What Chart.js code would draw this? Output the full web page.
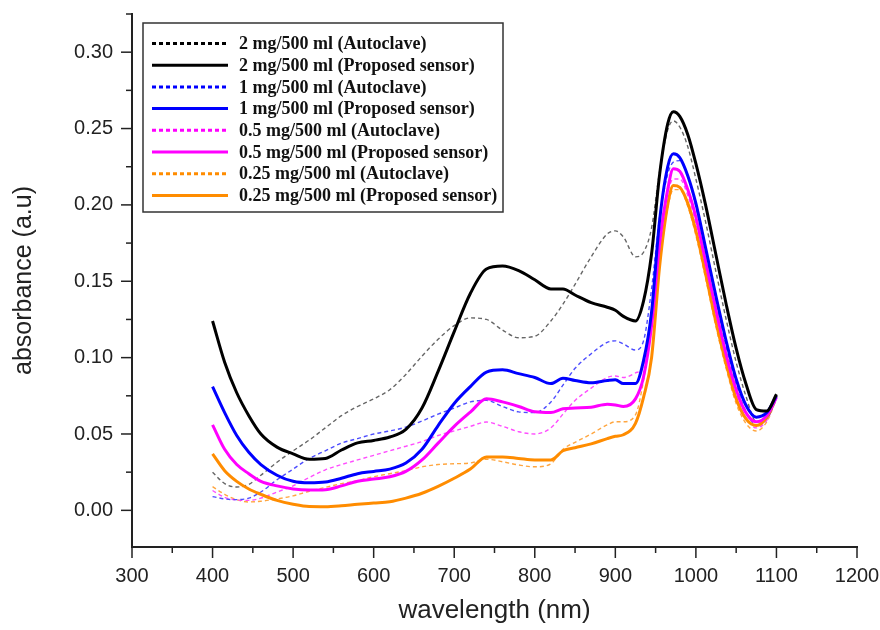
<!DOCTYPE html>
<html>
<head>
<meta charset="utf-8">
<script src="https://cdn.jsdelivr.net/npm/chart.js@4.4.0/dist/chart.umd.min.js"></script>
<style>
  html, body { margin: 0; padding: 0; background: #fff; }
</style>
</head>
<body>
<canvas id="absChart" width="880" height="630"></canvas>
<script>
// wavelength (nm) shared by all curves
var wavelength = [400, 415, 430, 445, 460, 480, 500, 520, 540, 560, 580, 600, 620, 640, 660, 680, 700, 720, 740, 760,
  780, 800, 820, 835, 850, 870, 890, 900, 910, 925, 935, 945, 955, 965, 972, 980, 990, 1000, 1012, 1025,
  1038, 1050, 1062, 1075, 1088, 1100];

var seriesLabels = [
  '2 mg/500 ml (Autoclave)', '2 mg/500 ml (Proposed sensor)',
  '1 mg/500 ml (Autoclave)', '1 mg/500 ml (Proposed sensor)',
  '0.5 mg/500 ml (Autoclave)', '0.5 mg/500 ml (Proposed sensor)',
  '0.25 mg/500 ml (Autoclave)', '0.25 mg/500 ml (Proposed sensor)'
];

var auto2 = [0.025, 0.0175, 0.0153, 0.017, 0.023, 0.0315, 0.039, 0.046, 0.054, 0.062, 0.068, 0.073, 0.079, 0.089, 0.101, 0.112, 0.121, 0.126, 0.125, 0.118,
  0.113, 0.114, 0.124, 0.135, 0.148, 0.166, 0.181, 0.183, 0.179, 0.166, 0.169, 0.185, 0.222, 0.249, 0.255, 0.251, 0.238, 0.217, 0.189, 0.156,
  0.124, 0.097, 0.075, 0.058, 0.060, 0.074];
var sensor2 = [0.124, 0.097, 0.077, 0.062, 0.050, 0.0414, 0.037, 0.0335, 0.034, 0.0395, 0.0442, 0.0458, 0.048, 0.053, 0.067, 0.091, 0.117, 0.142, 0.158, 0.160,
  0.157, 0.151, 0.145, 0.145, 0.141, 0.136, 0.133, 0.131, 0.127, 0.124, 0.137, 0.168, 0.220, 0.253, 0.261, 0.258, 0.246, 0.227, 0.200, 0.167,
  0.134, 0.106, 0.083, 0.066, 0.065, 0.076];
var auto1 = [0.009, 0.0075, 0.007, 0.008, 0.012, 0.020, 0.027, 0.034, 0.039, 0.044, 0.047, 0.050, 0.052, 0.0545, 0.0585, 0.063, 0.067, 0.071, 0.072, 0.068,
  0.0645, 0.064, 0.071, 0.082, 0.093, 0.1025, 0.110, 0.111, 0.109, 0.105, 0.111, 0.145, 0.192, 0.220, 0.228, 0.229, 0.219, 0.199, 0.170, 0.137,
  0.106, 0.082, 0.065, 0.056, 0.060, 0.073];
var sensor1 = [0.081, 0.064, 0.049, 0.038, 0.030, 0.023, 0.019, 0.018, 0.0185, 0.021, 0.024, 0.0255, 0.027, 0.031, 0.040, 0.0555, 0.070, 0.081, 0.0905, 0.092,
  0.0895, 0.087, 0.083, 0.0865, 0.085, 0.0835, 0.085, 0.0855, 0.083, 0.083, 0.098, 0.130, 0.190, 0.225, 0.2335, 0.231, 0.219, 0.201, 0.172, 0.140,
  0.110, 0.086, 0.069, 0.061, 0.064, 0.075];
var auto05 = [0.013, 0.0085, 0.0068, 0.0065, 0.008, 0.012, 0.016, 0.0215, 0.0265, 0.030, 0.033, 0.036, 0.039, 0.042, 0.045, 0.049, 0.052, 0.055, 0.0578, 0.055,
  0.0515, 0.050, 0.054, 0.063, 0.072, 0.080, 0.087, 0.088, 0.087, 0.090, 0.095, 0.128, 0.178, 0.208, 0.217, 0.217, 0.206, 0.188, 0.160, 0.128,
  0.098, 0.076, 0.061, 0.054, 0.059, 0.073];
var sensor05 = [0.056, 0.040, 0.030, 0.024, 0.019, 0.016, 0.014, 0.0133, 0.0135, 0.016, 0.019, 0.0205, 0.022, 0.0255, 0.033, 0.044, 0.055, 0.0643, 0.073, 0.071,
  0.068, 0.0645, 0.064, 0.0665, 0.067, 0.0675, 0.0695, 0.069, 0.068, 0.073, 0.0873, 0.121, 0.175, 0.210, 0.2236, 0.222, 0.210, 0.192, 0.163, 0.131,
  0.101, 0.079, 0.064, 0.058, 0.062, 0.074];
var auto025 = [0.0155, 0.0105, 0.007, 0.0055, 0.006, 0.0075, 0.0095, 0.0125, 0.015, 0.0175, 0.0195, 0.022, 0.024, 0.026, 0.0285, 0.030, 0.0305, 0.031, 0.0335, 0.0318,
  0.0297, 0.0285, 0.0305, 0.040, 0.0445, 0.050, 0.056, 0.058, 0.058, 0.0625, 0.085, 0.120, 0.165, 0.198, 0.210, 0.210, 0.199, 0.180, 0.152, 0.120,
  0.092, 0.070, 0.057, 0.052, 0.058, 0.073];
var sensor025 = [0.037, 0.026, 0.019, 0.014, 0.0105, 0.0065, 0.004, 0.0025, 0.0024, 0.003, 0.004, 0.0048, 0.0056, 0.008, 0.0112, 0.0157, 0.021, 0.027, 0.035, 0.035,
  0.034, 0.033, 0.033, 0.039, 0.041, 0.0435, 0.047, 0.0485, 0.0495, 0.057, 0.074, 0.100, 0.160, 0.200, 0.2127, 0.2115, 0.201, 0.183, 0.155, 0.123,
  0.095, 0.073, 0.060, 0.0555, 0.061, 0.075];

var xTicks = [300, 400, 500, 600, 700, 800, 900, 1000, 1100, 1200];
var yTicks = [0.00, 0.05, 0.10, 0.15, 0.20, 0.25, 0.30];

var allSeries = [auto2, sensor2, auto1, sensor1, auto05, sensor05, auto025, sensor025];
var colors = ['#000000', '#000000', '#0000ff', '#0000ff', '#ff00ff', '#ff00ff', '#ff8c00', '#ff8c00'];
// thin dotted curves look washed out in the original
var thinColors = ['#666666', '#000000', '#4d4dff', '#0000ff', '#ff4dff', '#ff00ff', '#ffa640', '#ff8c00'];

function pts(arr) {
  return wavelength.map(function (w, i) { return { x: w, y: arr[i] }; });
}

var datasets = allSeries.map(function (arr, i) {
  var dashed = i % 2 === 0;
  return {
    label: seriesLabels[i],
    data: pts(arr),
    borderColor: thinColors[i],
    legendColor: colors[i],
    borderWidth: dashed ? 1.4 : 3,
    borderDash: dashed ? [4, 3] : [],
    pointRadius: 0,
    fill: false,
    cubicInterpolationMode: 'monotone',
    order: dashed ? 1 : 0
  };
});

// tick marks (major + minor, outward) and the boxed legend
var decoPlugin = {
  id: 'deco',
  afterDraw: function (chart) {
    var ctx = chart.ctx, xs = chart.scales.x, ys = chart.scales.y, a = chart.chartArea;
    ctx.save();
    ctx.strokeStyle = '#222';
    ctx.lineWidth = 1.5;
    xs.ticks.forEach(function (t) {
      var px = xs.getPixelForValue(t.value);
      var major = xTicks.indexOf(t.value) >= 0;
      ctx.beginPath();
      ctx.moveTo(px, a.bottom);
      ctx.lineTo(px, a.bottom + (major ? 11 : 6));
      ctx.stroke();
    });
    ys.ticks.forEach(function (t) {
      var py = ys.getPixelForValue(t.value);
      var major = yTicks.some(function (v) { return Math.abs(v - t.value) < 1e-6; });
      ctx.beginPath();
      ctx.moveTo(a.left, py);
      ctx.lineTo(a.left - (major ? 11 : 6), py);
      ctx.stroke();
    });

    // legend
    var bx = 143, by = 23, bw = 360, bh = 189;
    ctx.fillStyle = '#fff';
    ctx.fillRect(bx, by, bw, bh);
    ctx.strokeStyle = '#333';
    ctx.lineWidth = 1.5;
    ctx.strokeRect(bx, by, bw, bh);
    ctx.font = 'bold 18px "Liberation Serif", "Times New Roman", serif';
    ctx.textBaseline = 'middle';
    ctx.fillStyle = '#111';
    chart.data.datasets.forEach(function (ds, i) {
      var yy = 43.5 + i * 21.7;
      ctx.beginPath();
      ctx.strokeStyle = ds.legendColor;
      ctx.lineWidth = 3;
      ctx.setLineDash(ds.borderDash.length ? [4, 3] : []);
      ctx.moveTo(152, yy);
      ctx.lineTo(228, yy);
      ctx.stroke();
      ctx.setLineDash([]);
      ctx.fillText(ds.label, 239, yy + 1);
    });
    ctx.restore();
  }
};

var ctx = document.getElementById('absChart').getContext('2d');
new Chart(ctx, {
  type: 'line',
  data: { datasets: datasets },
  plugins: [decoPlugin],
  options: {
    responsive: false,
    animation: false,
    layout: { padding: { top: 14, right: 23, left: 0, bottom: 0 } },
    plugins: { legend: { display: false }, tooltip: { enabled: false } },
    scales: {
      x: {
        type: 'linear',
        min: 300, max: 1200,
        afterFit: function (s) { s.height = 83; s.paddingLeft = 0; s.paddingRight = 0; },
        grid: { display: false, drawTicks: false },
        border: { display: true, color: '#222', width: 2 },
        ticks: {
          stepSize: 50, autoSkip: false, maxRotation: 0, padding: 17,
          color: '#222', font: { family: '"Liberation Sans", Arial, sans-serif', size: 20 },
          callback: function (v) { return xTicks.indexOf(v) >= 0 ? String(v) : ''; }
        },
        title: {
          display: true, text: 'wavelength (nm)', color: '#222',
          font: { family: '"Liberation Sans", Arial, sans-serif', size: 26 },
          padding: { top: 0, bottom: 4 }
        }
      },
      y: {
        type: 'linear',
        min: -0.024, max: 0.325,
        afterFit: function (s) { s.width = 132; s.paddingTop = 0; s.paddingBottom = 0; },
        grid: { display: false, drawTicks: false },
        border: { display: true, color: '#222', width: 2 },
        ticks: {
          stepSize: 0.025, autoSkip: false, includeBounds: false, padding: 19,
          color: '#222', font: { family: '"Liberation Sans", Arial, sans-serif', size: 20 },
          callback: function (v) {
            var hit = yTicks.some(function (t) { return Math.abs(t - v) < 1e-6; });
            return hit ? v.toFixed(2) : '';
          }
        },
        title: {
          display: true, text: 'absorbance (a.u)', color: '#222',
          font: { family: '"Liberation Sans", Arial, sans-serif', size: 25 },
          padding: { top: 9, bottom: 0 }
        }
      }
    }
  }
});
</script>
</body>
</html>
